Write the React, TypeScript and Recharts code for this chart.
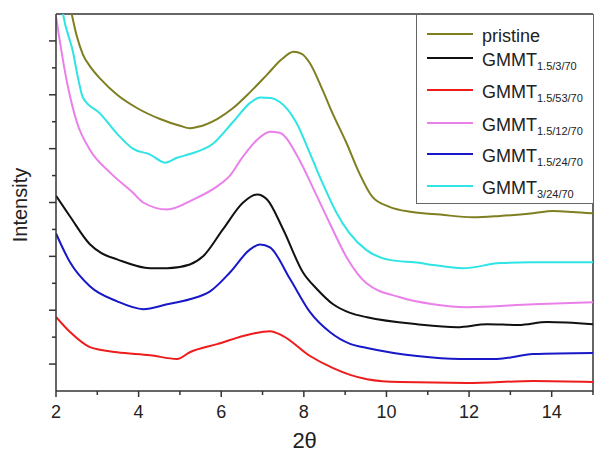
import { Label, Legend, Line, LineChart, ReferenceLine, XAxis, YAxis } from "recharts";

// diffraction patterns (offset curves, arbitrary units)
const pristine = [
  { x: 2.0, y: 17.0 }, { x: 2.2, y: 15.3 }, { x: 2.38, y: 14.0 }, { x: 2.5, y: 13.2 },
  { x: 2.65, y: 12.5 }, { x: 2.85, y: 12.0 }, { x: 3.07, y: 11.6 }, { x: 3.48, y: 11.0 },
  { x: 3.97, y: 10.5 }, { x: 4.52, y: 10.1 }, { x: 5.0, y: 9.85 }, { x: 5.24, y: 9.76 },
  { x: 5.41, y: 9.8 }, { x: 5.9, y: 10.1 }, { x: 6.28, y: 10.5 }, { x: 6.7, y: 11.1 },
  { x: 7.11, y: 11.75 }, { x: 7.45, y: 12.3 }, { x: 7.75, y: 12.6 }, { x: 7.95, y: 12.52 },
  { x: 8.14, y: 12.19 }, { x: 8.45, y: 11.19 }, { x: 8.69, y: 10.33 }, { x: 9.03, y: 9.22 },
  { x: 9.34, y: 8.1 }, { x: 9.66, y: 7.21 }, { x: 10.07, y: 6.84 }, { x: 10.62, y: 6.65 },
  { x: 11.3, y: 6.55 }, { x: 12.1, y: 6.45 }, { x: 12.75, y: 6.5 }, { x: 13.55, y: 6.6 },
  { x: 14.03, y: 6.68 }, { x: 14.5, y: 6.65 }, { x: 15.0, y: 6.6 }
];

const gmmt_1_5_3_70 = [
  { x: 2.0, y: 7.25 }, { x: 2.34, y: 6.48 }, { x: 2.82, y: 5.45 }, { x: 3.1, y: 5.12 },
  { x: 3.48, y: 4.89 }, { x: 4.28, y: 4.56 }, { x: 4.69, y: 4.56 }, { x: 5.24, y: 4.7 },
  { x: 5.56, y: 5.0 }, { x: 6.04, y: 6.0 }, { x: 6.53, y: 7.0 }, { x: 6.87, y: 7.3 },
  { x: 7.11, y: 7.11 }, { x: 7.5, y: 6.0 }, { x: 7.98, y: 4.4 }, { x: 8.32, y: 3.78 },
  { x: 8.71, y: 3.22 }, { x: 9.12, y: 2.9 }, { x: 9.53, y: 2.74 }, { x: 10.74, y: 2.48 },
  { x: 11.71, y: 2.37 }, { x: 12.44, y: 2.48 }, { x: 13.2, y: 2.45 }, { x: 13.89, y: 2.56 },
  { x: 15.0, y: 2.48 }
];

const gmmt_1_5_53_70 = [
  { x: 2.0, y: 2.75 }, { x: 2.34, y: 2.19 }, { x: 2.82, y: 1.63 }, { x: 3.48, y: 1.44 },
  { x: 4.28, y: 1.33 }, { x: 4.93, y: 1.19 }, { x: 5.24, y: 1.44 }, { x: 5.9, y: 1.74 },
  { x: 6.7, y: 2.11 }, { x: 7.18, y: 2.22 }, { x: 7.5, y: 2.04 }, { x: 8.15, y: 1.3 },
  { x: 8.71, y: 0.85 }, { x: 9.12, y: 0.6 }, { x: 9.53, y: 0.44 }, { x: 10.33, y: 0.33 },
  { x: 11.95, y: 0.3 }, { x: 13.55, y: 0.37 }, { x: 15.0, y: 0.33 }
];

const gmmt_1_5_12_70 = [
  { x: 2.0, y: 13.9 }, { x: 2.27, y: 11.44 }, { x: 2.51, y: 9.96 }, { x: 2.82, y: 8.96 },
  { x: 3.31, y: 8.11 }, { x: 3.86, y: 7.37 }, { x: 4.11, y: 7.0 }, { x: 4.69, y: 6.74 },
  { x: 5.32, y: 7.11 }, { x: 5.9, y: 7.6 }, { x: 6.21, y: 8.0 }, { x: 6.5, y: 8.65 },
  { x: 6.87, y: 9.33 }, { x: 7.18, y: 9.63 }, { x: 7.41, y: 9.59 }, { x: 7.89, y: 8.59 },
  { x: 8.21, y: 7.58 }, { x: 8.62, y: 6.25 }, { x: 9.03, y: 4.98 }, { x: 9.51, y: 4.01 },
  { x: 10.33, y: 3.48 }, { x: 11.13, y: 3.22 }, { x: 11.95, y: 3.11 }, { x: 13.55, y: 3.22 },
  { x: 15.0, y: 3.3 }
];

const gmmt_1_5_24_70 = [
  { x: 2.0, y: 5.85 }, { x: 2.34, y: 4.78 }, { x: 2.82, y: 3.89 }, { x: 3.48, y: 3.33 },
  { x: 4.11, y: 3.04 }, { x: 4.69, y: 3.22 }, { x: 5.24, y: 3.41 }, { x: 5.73, y: 3.7 },
  { x: 6.21, y: 4.4 }, { x: 6.7, y: 5.26 }, { x: 6.94, y: 5.44 }, { x: 7.18, y: 5.33 },
  { x: 7.67, y: 4.15 }, { x: 8.15, y: 2.93 }, { x: 8.63, y: 2.19 }, { x: 9.12, y: 1.75 },
  { x: 9.53, y: 1.6 }, { x: 10.74, y: 1.3 }, { x: 11.78, y: 1.19 }, { x: 12.68, y: 1.19 },
  { x: 13.55, y: 1.37 }, { x: 15.0, y: 1.41 }
];

const gmmt_3_24_70 = [
  { x: 2.0, y: 16.0 }, { x: 2.17, y: 14.0 }, { x: 2.41, y: 12.6 }, { x: 2.55, y: 11.5 },
  { x: 2.65, y: 10.9 }, { x: 3.07, y: 10.3 }, { x: 3.48, y: 9.55 }, { x: 3.86, y: 9.0 },
  { x: 4.28, y: 8.78 }, { x: 4.64, y: 8.48 }, { x: 4.93, y: 8.66 }, { x: 5.24, y: 8.8 },
  { x: 5.8, y: 9.18 }, { x: 6.29, y: 10.0 }, { x: 6.7, y: 10.7 }, { x: 6.94, y: 10.9 },
  { x: 7.2, y: 10.88 }, { x: 7.41, y: 10.74 }, { x: 7.82, y: 9.96 }, { x: 8.14, y: 8.85 },
  { x: 8.45, y: 7.73 }, { x: 8.79, y: 6.62 }, { x: 9.1, y: 5.87 }, { x: 9.51, y: 5.24 },
  { x: 10.07, y: 4.87 }, { x: 10.79, y: 4.76 }, { x: 11.13, y: 4.68 }, { x: 11.85, y: 4.56 },
  { x: 12.75, y: 4.75 }, { x: 13.5, y: 4.78 }, { x: 15.0, y: 4.78 }
];

const xTicks = [2, 3, 4, 5, 6, 7, 8, 9, 10, 11, 12, 13, 14, 15];
const yTicks = [1, 2, 3, 4, 5, 6, 7, 8, 9, 10, 11, 12, 13];

const series = [
  { key: "pristine", name: "pristine", sub: "", color: "#7f7f22", data: pristine },
  { key: "g1", name: "GMMT", sub: "1.5/3/70", color: "#111111", data: gmmt_1_5_3_70 },
  { key: "g2", name: "GMMT", sub: "1.5/53/70", color: "#ee1c1c", data: gmmt_1_5_53_70 },
  { key: "g3", name: "GMMT", sub: "1.5/12/70", color: "#ea80ea", data: gmmt_1_5_12_70 },
  { key: "g4", name: "GMMT", sub: "1.5/24/70", color: "#1818c8", data: gmmt_1_5_24_70 },
  { key: "g5", name: "GMMT", sub: "3/24/70", color: "#2ee4e4", data: gmmt_3_24_70 }
];

const FONT = "'Liberation Sans', Arial, sans-serif";
const AXIS = "#333";
const legendRows = [33, 57, 89, 122, 153, 185];

function XTick(props: any) {
  const { x, y, payload } = props;
  const major = payload.value % 2 === 0;
  return (
    <g>
      <line x1={x} x2={x} y1={y} y2={y + (major ? 6 : 4)} stroke={AXIS} strokeWidth={1.5} />
      {major && (
        <text x={x} y={y + 27} textAnchor="middle" fontSize={18} fontFamily={FONT} fill="#222">
          {payload.value}
        </text>
      )}
    </g>
  );
}

function YTick(props: any) {
  const { x, y, payload } = props;
  const major = payload.value % 2 === 1;
  return <line x1={x - (major ? 7 : 4)} x2={x} y1={y} y2={y} stroke={AXIS} strokeWidth={1.5} />;
}

function LegendBox() {
  return (
    <div
      style={{
        position: "relative",
        width: 176,
        height: 188,
        border: "1px solid #666",
        background: "#fff",
        fontFamily: FONT,
        color: "#222"
      }}
    >
      {series.map((s, i) => (
        <div
          key={s.key}
          style={{ position: "absolute", left: 10, top: legendRows[i] - 14 - 16, height: 32, display: "flex", alignItems: "center" }}
        >
          <div style={{ width: 46, height: 2, background: s.color }} />
          <span style={{ marginLeft: 9, marginTop: 5, fontSize: 18, whiteSpace: "nowrap" }}>
            {s.name}
            {s.sub && <sub style={{ fontSize: 11, verticalAlign: "-4px" }}>{s.sub}</sub>}
          </span>
        </div>
      ))}
    </div>
  );
}

export default function App() {
  return (
    <div style={{ position: "absolute", left: 0, top: 0, width: 594, height: 453, background: "#fff" }}>
      <LineChart width={594} height={453} margin={{ top: 14, right: 1, bottom: 0, left: 0 }}>
        <XAxis
          type="number"
          dataKey="x"
          domain={[2, 15]}
          ticks={xTicks}
          interval={0}
          height={62}
          tickSize={0}
          tickMargin={0}
          tickLine={false}
          tick={<XTick />}
          axisLine={{ stroke: AXIS, strokeWidth: 1.5 }}
          allowDataOverflow
        >
          <Label
            content={(p: any) => (
              <text
                x={p.viewBox.x + p.viewBox.width * 0.463}
                y={p.viewBox.y + 57}
                textAnchor="middle"
                fontSize={22}
                fontFamily={FONT}
                fill="#222"
              >
                2θ
              </text>
            )}
          />
        </XAxis>
        <YAxis
          type="number"
          domain={[0, 14]}
          ticks={yTicks}
          interval={0}
          width={56}
          tickSize={0}
          tickMargin={0}
          tickLine={false}
          tick={<YTick />}
          axisLine={{ stroke: AXIS, strokeWidth: 1.5 }}
          allowDataOverflow
        >
          <Label
            content={(p: any) => (
              <text
                x={20}
                y={p.viewBox.y + 191}
                textAnchor="middle"
                dominantBaseline="central"
                fontSize={20}
                fontFamily={FONT}
                fill="#222"
                transform={`rotate(-90, 20, ${p.viewBox.y + 191})`}
              >
                Intensity
              </text>
            )}
          />
        </YAxis>
        <ReferenceLine y={14} stroke={AXIS} strokeWidth={1.5} />
        <ReferenceLine x={15} stroke={AXIS} strokeWidth={1.5} />
        {series.map((s) => (
          <Line
            key={s.key}
            data={s.data}
            dataKey="y"
            name={s.sub ? `${s.name} ${s.sub}` : s.name}
            type="monotone"
            stroke={s.color}
            strokeWidth={2}
            dot={false}
            activeDot={false}
            isAnimationActive={false}
          />
        ))}
        <Legend
          layout="horizontal"
          verticalAlign="middle"
          align="center"
          content={() => <LegendBox />}
          wrapperStyle={{ position: "absolute", left: 416, top: 14, width: 178, height: 190 }}
        />
      </LineChart>
    </div>
  );
}
